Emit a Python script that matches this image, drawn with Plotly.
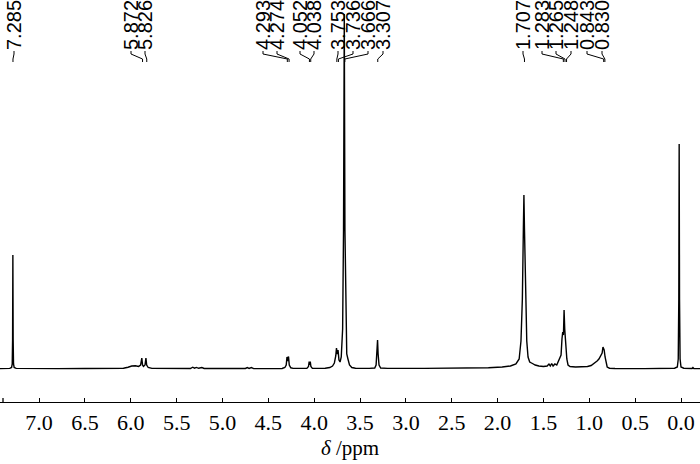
import plotly.graph_objects as go

# ---------------- data ----------------
# traced 1H NMR spectrum: chemical shift (ppm) and relative intensity
ppm = [7.43, 7.38, 7.32, 7.30, 7.293, 7.289, 7.286, 7.283, 7.279, 7.272, 7.25, 7.10, 6.80, 6.50,
       6.20, 6.08, 6.03, 5.99, 5.95, 5.915, 5.893, 5.880, 5.872, 5.862, 5.845, 5.835, 5.827, 5.81,
       5.77, 5.50, 5.35, 5.325, 5.305, 5.285, 5.26, 5.225, 5.20, 4.90, 4.75, 4.73, 4.71, 4.685,
       4.66, 4.35, 4.32, 4.305, 4.297, 4.289, 4.280, 4.272, 4.255, 4.23, 4.08, 4.062, 4.055,
       4.049, 4.043, 4.036, 4.02, 3.88, 3.83, 3.80, 3.78, 3.765, 3.757, 3.748, 3.740, 3.730,
       3.718, 3.705, 3.690, 3.680, 3.672, 3.665, 3.655, 3.645, 3.632, 3.615, 3.59, 3.55, 3.40,
       3.34, 3.325, 3.315, 3.309, 3.303, 3.293, 3.275, 3.20, 2.80, 2.40, 2.10, 1.95, 1.86, 1.80,
       1.765, 1.745, 1.730, 1.719, 1.713, 1.707, 1.696, 1.682, 1.668, 1.650, 1.62, 1.59, 1.55,
       1.50, 1.46, 1.44, 1.425, 1.41, 1.395, 1.375, 1.355, 1.335, 1.320, 1.308, 1.298, 1.290,
       1.282, 1.275, 1.268, 1.262, 1.255, 1.245, 1.232, 1.21, 1.15, 1.08, 1.02, 0.98, 0.94,
       0.915, 0.895, 0.875, 0.860, 0.851, 0.846, 0.838, 0.828, 0.818, 0.805, 0.78, 0.72, 0.40,
       0.15, 0.07, 0.04, 0.030, 0.024, 0.020, 0.016, 0.010, 0.000, -0.03, -0.08, -0.12, -0.13,
       -0.14, -0.21]
intensity = [0.4, 0.4, 0.6, 1.5, 5, 30, 114, 30, 5, 1.5, 0.6, 0.4, 0.4, 0.5,
             0.5, 0.8, 1.8, 3, 3.2, 2.6, 4, 11, 4, 2.6, 4, 11, 4, 1.5,
             0.6, 0.5, 0.5, 1.8, 0.8, 1.6, 0.7, 1.5, 0.5, 0.5, 0.5, 1.4, 0.6, 1.4,
             0.4, 0.5, 1.5, 4, 12, 8, 12.5, 4, 1.2, 0.6, 0.6, 2.5, 7.5,
             4, 7.5, 2.5, 0.6, 0.7, 1.5, 3, 6, 13, 21, 15, 19, 9,
             7, 12, 40, 140, 355, 140, 40, 15, 10, 4, 1.5, 0.8, 0.6,
             1, 4, 15, 29, 15, 4, 1, 0.6, 0.6, 0.8, 1.2, 2, 3, 5,
             10, 28, 70, 140, 174, 140, 70, 28, 12, 7, 5.5, 4, 3,
             2.5, 3, 5, 3, 5.5, 3, 5, 4, 9, 12, 14, 30, 37,
             34, 59, 40, 32, 25, 10, 4, 2.5, 2, 2, 2.5, 3.5, 6,
             8, 10, 13, 16, 22, 21, 19, 12, 6, 2, 0.8, 0.5, 0.4,
             0.5, 0.8, 2, 10, 70, 225, 70, 10, 2, 0.8, 0.5, 0.5, 1.5,
             0.5, 0.4]

# axis ticks
tick_values = [7.0, 6.5, 6.0, 5.5, 5.0, 4.5, 4.0, 3.5, 3.0, 2.5, 2.0, 1.5, 1.0, 0.5, 0.0]
tick_labels = ["7.0", "6.5", "6.0", "5.5", "5.0", "4.5", "4.0", "3.5", "3.0", "2.5",
               "2.0", "1.5", "1.0", "0.5", "0.0"]

# peak picks
peak_labels = ["7.285", "5.872", "5.826", "4.293", "4.274", "4.052", "4.038", "3.753",
               "3.736", "3.666", "3.307", "1.707", "1.283", "1.265", "1.248", "0.843", "0.830"]
peak_ppm = [7.285, 5.872, 5.826, 4.293, 4.274, 4.052, 4.038, 3.753,
            3.736, 3.666, 3.307, 1.707, 1.283, 1.265, 1.248, 0.843, 0.830]

# ---------------- layout ----------------
W, H = 700, 464
B = 62                      # bottom margin -> axis line at y = 402
PH = H - B                  # plot-area height in px
X0, X1 = 7.4264, -0.2072    # x range (reversed ppm axis)
Y0, Y1 = -33, 369           # y range: baseline at y=369 px

SERIF = "Liberation Serif"
SANS = "Liberation Sans"

# horizontal slot (px) of each rotated label
label_px = [14, 131, 145, 263, 277, 300, 314, 338, 353, 368, 383, 523, 542, 556, 571, 587, 602]


def px_to_ppm(px):
    return X0 + px / W * (X1 - X0)


def py_to_paper(py):
    return (PH - py) / PH


fig = go.Figure()
fig.add_trace(go.Scatter(x=ppm, y=intensity, mode="lines",
                         line=dict(color="black", width=1.4),
                         hoverinfo="skip", showlegend=False))

shapes = []
annotations = []
line_style = dict(color="black", width=1)
for lab, pk, lpx in zip(peak_labels, peak_ppm, label_px):
    lx = px_to_ppm(lpx)
    annotations.append(dict(
        x=lx, xref="x", y=py_to_paper(51), yref="paper",
        text=lab, textangle=-90, showarrow=False,
        xanchor="center", yanchor="bottom",
        font=dict(family=SANS, size=20, color="black"),
        borderpad=0))
    shapes.append(dict(type="line", xref="x", yref="paper", x0=lx, x1=lx,
                       y0=py_to_paper(51), y1=py_to_paper(54), line=line_style))
    shapes.append(dict(type="line", xref="x", yref="paper", x0=lx, x1=pk,
                       y0=py_to_paper(54), y1=py_to_paper(59), line=line_style))
    shapes.append(dict(type="line", xref="x", yref="paper", x0=pk, x1=pk,
                       y0=py_to_paper(59), y1=py_to_paper(62), line=line_style))

# small end tick at left of axis line
shapes.append(dict(type="line", xref="paper", yref="paper", x0=3 / W, x1=3 / W,
                   y0=0, y1=4 / PH, line=dict(color="black", width=1.3)))

annotations.append(dict(
    x=0.5, xref="paper", y=py_to_paper(448), yref="paper",
    text="<i>δ</i> /ppm", showarrow=False, xanchor="center", yanchor="middle",
    font=dict(family=SERIF, size=21, color="black")))

fig.update_layout(
    width=W, height=H,
    margin=dict(l=0, r=0, t=0, b=B, pad=0),
    paper_bgcolor="white", plot_bgcolor="white",
    shapes=shapes, annotations=annotations,
    xaxis=dict(range=[X0, X1], showgrid=False, zeroline=False,
               showline=True, linecolor="black", linewidth=1.3,
               ticks="inside", ticklen=4, tickwidth=1.3, tickcolor="black",
               tickvals=tick_values, ticktext=tick_labels,
               ticklabelstandoff=0,
               tickfont=dict(family=SERIF, size=22, color="black")),
    yaxis=dict(range=[Y0, Y1], visible=False, showgrid=False, zeroline=False),
)

fig.write_html("out.html", config={"displayModeBar": False},
               post_script="document.body.style.margin='0';")
